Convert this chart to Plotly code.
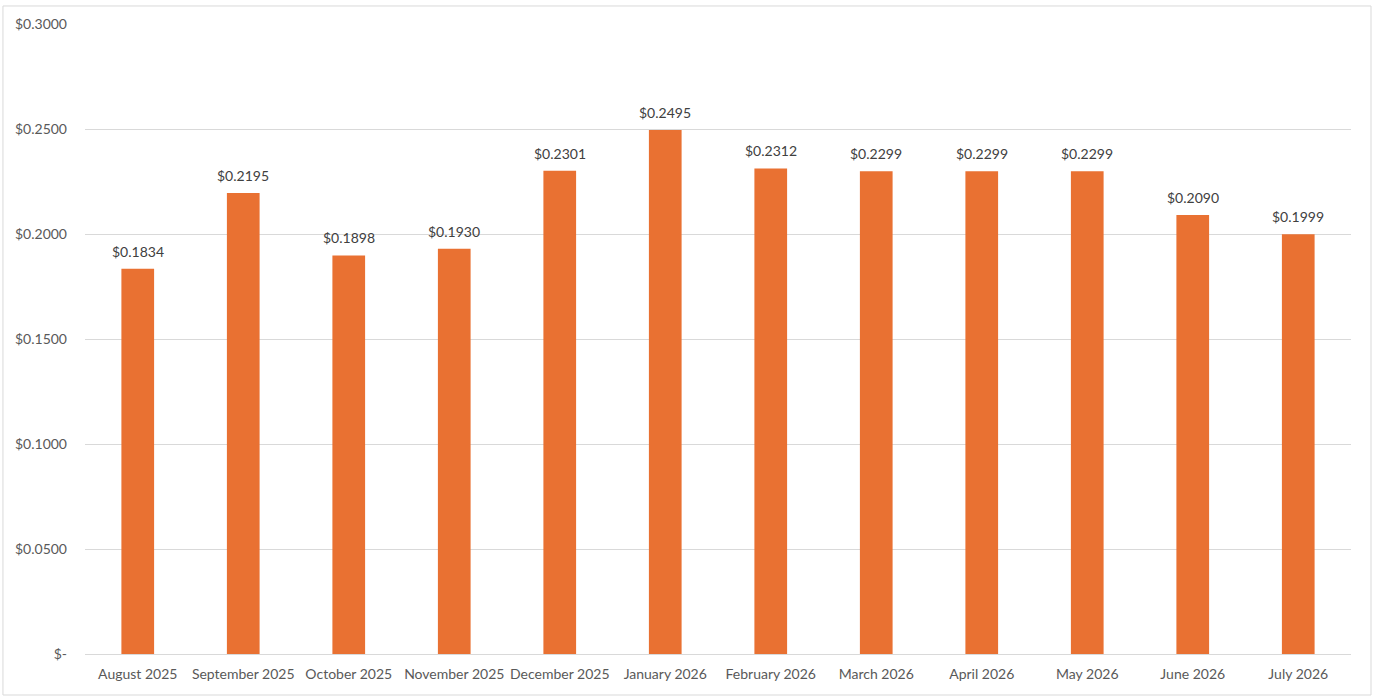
import plotly.graph_objects as go

months = ["August 2025", "September 2025", "October 2025", "November 2025",
          "December 2025", "January 2026", "February 2026", "March 2026",
          "April 2026", "May 2026", "June 2026", "July 2026"]
prices = [0.1834, 0.2195, 0.1898, 0.1930, 0.2301, 0.2495,
          0.2312, 0.2299, 0.2299, 0.2299, 0.2090, 0.1999]

tick_vals = [0, 0.05, 0.10, 0.15, 0.20, 0.25, 0.30]
tick_text = ["$-", "$0.0500", "$0.1000", "$0.1500", "$0.2000", "$0.2500", "$0.3000"]

fig = go.Figure(go.Bar(
    x=months, y=prices,
    marker=dict(color="#E97132", line=dict(width=0)),
    width=0.31,
    hovertemplate="%{x}: $%{y:.4f}<extra></extra>",
))

# value labels sit a little higher above the bars than plotly's outside text
for m, p in zip(months, prices):
    fig.add_annotation(x=m, y=p, text=f"${p:.4f}", showarrow=False,
                       yanchor="bottom", yshift=7,
                       font=dict(size=14, color="#404040"))

fig.update_layout(
    width=1375, height=698,
    paper_bgcolor="white", plot_bgcolor="white",
    margin=dict(l=85, r=24, t=24, b=44),
    font=dict(family="Lato, Open Sans, sans-serif", size=14, color="#595959"),
    showlegend=False,
    shapes=[dict(type="rect", xref="paper", yref="paper",
                 x0=-0.0648, x1=1.0158, y0=-0.0651, y1=1.0286,
                 line=dict(color="#D9D9D9", width=1))],
)
fig.update_xaxes(showgrid=False, showline=False, ticks="", ticklabelstandoff=10,
                 tickfont=dict(size=14, color="#595959"))
fig.update_yaxes(range=[0, 0.30], tickvals=tick_vals, ticktext=tick_text,
                 gridcolor="#D9D9D9", gridwidth=1, zeroline=True,
                 zerolinecolor="#D9D9D9", zerolinewidth=1,
                 showline=False, ticks="", ticklabelstandoff=17,
                 tickfont=dict(size=14, color="#595959"))

fig.write_html("out.html", config={"displayModeBar": False},
               post_script="document.body.style.margin='0';document.body.style.overflow='hidden';")
